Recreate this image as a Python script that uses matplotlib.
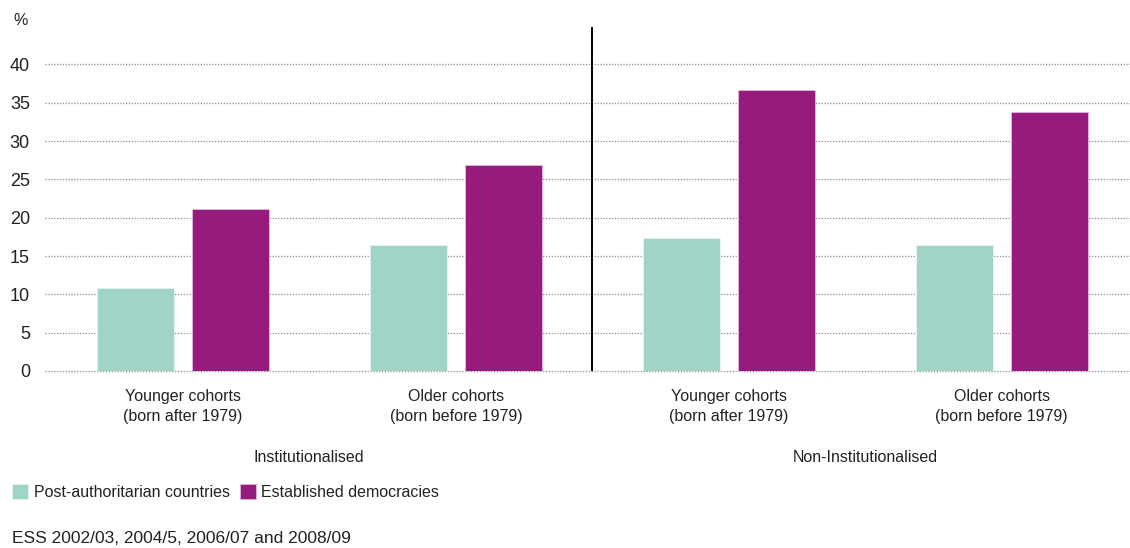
import matplotlib.pyplot as plt
import numpy as np

plt.rcParams["font.family"] = ["Liberation Sans", "DejaVu Sans"]

# ---- data ----------------------------------------------------------------------
cohorts = ["Younger cohorts\n(born after 1979)", "Older cohorts\n(born before 1979)",
           "Younger cohorts\n(born after 1979)", "Older cohorts\n(born before 1979)"]
modes = ["Institutionalised", "Non-Institutionalised"]
post_authoritarian = [10.8, 16.5, 17.4, 16.5]
established = [21.2, 26.9, 36.7, 33.8]
yticks = [0, 5, 10, 15, 20, 25, 30, 35, 40]

teal = "#9fd4c6"
purple = "#951b7d"
text_col = "#222222"


def main():
    fig = plt.figure(figsize=(11.3, 5.48), dpi=100)
    ax = fig.add_axes([0.040, 0.323, 0.960, 0.628])

    x = np.arange(len(cohorts))
    w = 0.282
    ax.bar(x - 0.174, post_authoritarian, w, color=teal, edgecolor="#e6f4f0",
           linewidth=0.6, label="Post-authoritarian countries", zorder=3)
    ax.bar(x + 0.174, established, w, color=purple, edgecolor="#e7b8dc",
           linewidth=0.6, label="Established democracies", zorder=3)

    ax.set_xlim(-0.505, 3.47)
    ax.set_ylim(0, 44.9)
    ax.set_yticks(yticks)
    ax.set_yticklabels([str(t) for t in yticks], fontsize=13, color=text_col)
    ax.tick_params(axis="y", length=0, pad=11)
    ax.set_xticks([])
    for s in ax.spines.values():
        s.set_visible(False)

    # dotted gridlines
    for t in yticks:
        ax.axhline(t, color="#8f8f8f", lw=0.9, ls=(0, (1, 1.3)), zorder=1, clip_on=False)

    # divider between the two groups
    ax.axvline(1.5, color="black", lw=1.4, zorder=4)

    # category and group labels
    for xi, lab in zip(x, cohorts):
        ax.text(xi, -2.4, lab, ha="center", va="top", fontsize=11.5,
                color=text_col, linespacing=1.42)
    ax.text(0.46, -11.3, modes[0], ha="center", va="center", fontsize=11.5, color=text_col)
    ax.text(2.5, -11.3, modes[1], ha="center", va="center", fontsize=11.5, color=text_col)

    fig.text(0.012, 0.963, "%", fontsize=11.5, color=text_col, va="center")

    fig.legend(loc="center left", bbox_to_anchor=(0.011, 0.102), ncol=2, frameon=False,
               borderpad=0, borderaxespad=0,
               handlelength=1.0, handleheight=1.0, handletextpad=0.35,
               columnspacing=0.6, fontsize=11.5, labelcolor=text_col)

    fig.text(0.011, 0.018, "ESS 2002/03, 2004/5, 2006/07 and 2008/09", fontsize=12.5,
             color=text_col, va="center")

    fig.savefig("out.png", dpi=100)


if __name__ == "__main__":
    main()
